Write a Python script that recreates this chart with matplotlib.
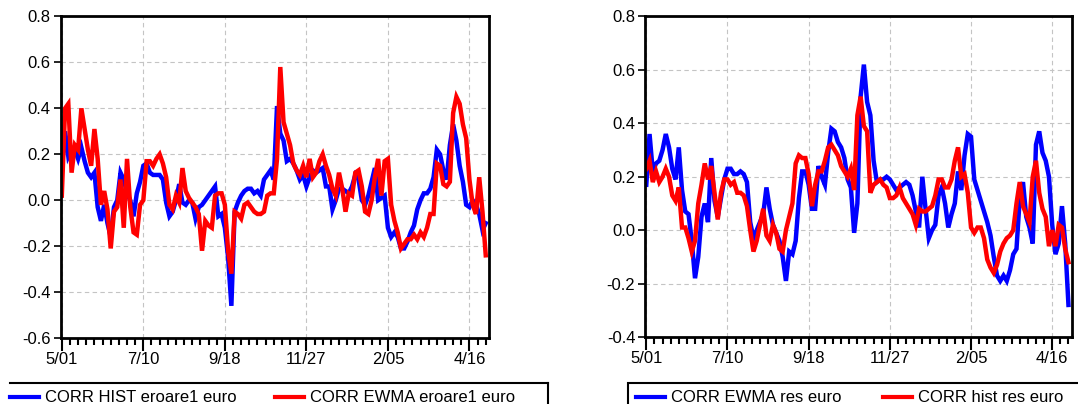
import numpy as np
import matplotlib
matplotlib.use("Agg")
import matplotlib.pyplot as plt
from matplotlib.lines import Line2D
from matplotlib.patches import Rectangle
from matplotlib.ticker import FormatStrFormatter

plt.rcParams['font.family'] = ['Liberation Sans', 'DejaVu Sans']
plt.rcParams['axes.unicode_minus'] = False

# date labels on the time axis, 50 working days apart
date_labels = ["5/01", "7/10", "9/18", "11/27", "2/05", "4/16"]
date_obs = [0, 50, 100, 150, 200, 250]

# correlations, one value every 2 working days
corr_hist_eroare1 = [
    0.14, 0.30, 0.19, 0.22, 0.22, 0.18, 0.23, 0.17, 0.12, 0.10,
    0.12, -0.03, -0.09, -0.02, -0.10, -0.16, -0.03, 0.00, 0.12, 0.09,
    0.03, 0.00, -0.07, 0.03, 0.08, 0.15, 0.16, 0.12, 0.11, 0.11,
    0.11, 0.09, -0.01, -0.07, -0.05, 0.00, 0.07, -0.01, -0.02, 0.00,
    -0.01, -0.08, -0.03, -0.02, 0.00, 0.02, 0.04, 0.06, -0.07, -0.06,
    -0.12, -0.25, -0.46, -0.05, -0.01, 0.02, 0.04, 0.05, 0.05, 0.03,
    0.04, 0.02, 0.09, 0.11, 0.13, 0.09, 0.41, 0.29, 0.26, 0.17,
    0.18, 0.16, 0.13, 0.09, 0.11, 0.06, 0.10, 0.13, 0.12, 0.13,
    0.14, 0.06, 0.06, -0.04, 0.00, 0.05, 0.05, 0.04, 0.03, 0.06,
    0.11, 0.09, 0.00, -0.02, 0.02, 0.08, 0.14, 0.00, 0.01, 0.02,
    -0.12, -0.16, -0.14, -0.16, -0.21, -0.21, -0.18, -0.14, -0.11, -0.04,
    0.00, 0.03, 0.03, 0.05, 0.10, 0.22, 0.20, 0.13, 0.09, 0.24,
    0.33, 0.26, 0.15, 0.08, -0.02, -0.03, 0.00, -0.02, -0.06, -0.13,
    -0.10,
]
corr_ewma_eroare1 = [
    0.02, 0.40, 0.42, 0.12, 0.24, 0.22, 0.40, 0.31, 0.22, 0.15,
    0.31, 0.18, -0.02, 0.04, -0.04, -0.21, -0.05, -0.03, 0.09, -0.12,
    0.18, -0.03, -0.14, -0.15, -0.02, 0.00, 0.17, 0.17, 0.15, 0.18,
    0.20, 0.16, 0.10, -0.02, -0.04, 0.02, -0.01, 0.14, 0.04, 0.01,
    -0.01, -0.03, -0.06, -0.22, -0.09, -0.11, -0.12, 0.02, 0.03, 0.03,
    -0.02, -0.22, -0.32, -0.05, -0.06, -0.08, -0.02, -0.01, -0.03, -0.05,
    -0.06, -0.06, -0.05, 0.02, 0.03, 0.03, 0.18, 0.58, 0.34, 0.29,
    0.24, 0.16, 0.13, 0.11, 0.15, 0.10, 0.18, 0.10, 0.12, 0.17,
    0.20, 0.15, 0.11, 0.05, 0.02, 0.12, 0.05, -0.05, 0.03, 0.02,
    0.12, 0.13, 0.06, -0.05, -0.06, 0.00, 0.10, 0.18, 0.02, 0.17,
    0.18, -0.02, -0.09, -0.14, -0.21, -0.19, -0.17, -0.17, -0.15, -0.17,
    -0.14, -0.16, -0.12, -0.06, -0.06, 0.16, 0.15, 0.07, 0.06, 0.08,
    0.38, 0.45, 0.42, 0.33, 0.27, 0.09, -0.02, -0.06, 0.10, -0.05,
    -0.24,
]
corr_ewma_res = [
    0.17, 0.36, 0.22, 0.25, 0.26, 0.30, 0.36, 0.31, 0.23, 0.19,
    0.31, 0.15, 0.07, 0.06, -0.04, -0.18, -0.10, 0.05, 0.10, 0.03,
    0.27, 0.11, 0.05, 0.12, 0.19, 0.23, 0.23, 0.21, 0.21, 0.22,
    0.21, 0.18, 0.03, -0.03, 0.00, 0.03, 0.06, 0.16, 0.08, 0.02,
    -0.01, -0.04, -0.10, -0.19, -0.08, -0.09, -0.04, 0.12, 0.22, 0.22,
    0.17, 0.08, 0.08, 0.24, 0.20, 0.17, 0.29, 0.38, 0.37, 0.33,
    0.31, 0.27, 0.19, 0.16, -0.01, 0.10, 0.50, 0.62, 0.48, 0.43,
    0.26, 0.18, 0.19, 0.19, 0.20, 0.19, 0.17, 0.15, 0.16, 0.17,
    0.18, 0.17, 0.13, 0.07, 0.01, 0.20, 0.08, -0.03, 0.00, 0.02,
    0.13, 0.16, 0.10, 0.01, 0.06, 0.10, 0.22, 0.15, 0.28, 0.36,
    0.35, 0.19, 0.15, 0.11, 0.07, 0.03, -0.02, -0.10, -0.17, -0.19,
    -0.17, -0.19, -0.15, -0.09, -0.07, 0.12, 0.18, 0.05, 0.01, -0.05,
    0.32, 0.37, 0.29, 0.26, 0.20, 0.02, -0.09, -0.05, 0.09, -0.05,
    -0.28,
]
corr_hist_res = [
    0.23, 0.26, 0.18, 0.22, 0.18, 0.20, 0.23, 0.20, 0.13, 0.11,
    0.16, 0.01, 0.01, -0.03, -0.08, -0.04, 0.10, 0.17, 0.25, 0.19,
    0.24, 0.14, 0.04, 0.14, 0.19, 0.19, 0.17, 0.18, 0.14, 0.14,
    0.13, 0.09, 0.00, -0.08, -0.04, 0.02, 0.08, -0.02, -0.04, 0.02,
    -0.01, -0.07, -0.08, 0.00, 0.05, 0.10, 0.25, 0.28, 0.27, 0.27,
    0.21, 0.09, 0.17, 0.22, 0.22, 0.26, 0.31, 0.32, 0.30, 0.28,
    0.24, 0.22, 0.20, 0.23, 0.15, 0.43, 0.50, 0.39, 0.37, 0.14,
    0.17, 0.18, 0.19, 0.17, 0.16, 0.12, 0.12, 0.13, 0.16, 0.12,
    0.10, 0.08, 0.06, 0.02, 0.08, 0.07, 0.07, 0.08, 0.09, 0.13,
    0.19, 0.19, 0.16, 0.16, 0.19, 0.26, 0.31, 0.20, 0.21, 0.14,
    0.01, -0.01, 0.01, 0.01, -0.03, -0.11, -0.14, -0.16, -0.13, -0.08,
    -0.05, -0.03, -0.02, 0.00, 0.10, 0.18, 0.09, 0.06, 0.03, 0.20,
    0.26, 0.14, 0.08, 0.05, -0.06, 0.00, -0.06, 0.02, 0.01, -0.07,
    -0.12,
]

obs = np.arange(len(corr_hist_eroare1)) * 2

W, H = 1078, 404
fig = plt.figure(figsize=(W / 100, H / 100), dpi=100)

ax1 = fig.add_axes([60.5 / W, 1 - 338 / H, 428.5 / W, 321.5 / H])
ax2 = fig.add_axes([645 / W, 1 - 337 / H, 426.7 / W, 320.5 / H])


def style_axis(ax, ylo, yhi):
    ax.set_xlim(-0.8, 262)
    ax.set_ylim(ylo, yhi)
    ax.set_yticks(np.arange(ylo, yhi + 0.01, 0.2))
    ax.yaxis.set_major_formatter(FormatStrFormatter('%.1f'))
    ax.set_xticks(date_obs)
    ax.set_xticklabels(date_labels)
    ax.set_xticks(np.arange(0, 262, 5), minor=True)
    ax.set_axisbelow(True)
    ax.grid(True, which='major', color='#c4c4c4', linestyle=(0, (4, 3)), linewidth=0.8)
    ax.tick_params(axis='x', which='major', length=9, width=1.5, labelsize=12, pad=1)
    ax.tick_params(axis='x', which='minor', length=5, width=1.5)
    ax.tick_params(axis='y', which='major', length=5, width=1.2, labelsize=12, pad=2)
    for s in ax.spines.values():
        s.set_linewidth(2)


ax1.plot(obs, corr_hist_eroare1, color='#0000ff', lw=3.2, solid_joinstyle='miter')
ax1.plot(obs, corr_ewma_eroare1, color='#ff0000', lw=3.2, solid_joinstyle='miter')
style_axis(ax1, -0.6, 0.8)

ax2.plot(obs, corr_ewma_res, color='#0000ff', lw=3.2, solid_joinstyle='miter')
ax2.plot(obs, corr_hist_res, color='#ff0000', lw=3.2, solid_joinstyle='miter')
style_axis(ax2, -0.4, 0.8)


# legend boxes under each panel (cut by the bottom edge)
def fx(x):
    return x / W


def fy(y):
    return 1 - y / H


fig.add_artist(Line2D([fx(10), fx(548)], [fy(383), fy(383)], color='black', lw=1.5))
fig.add_artist(Line2D([fx(548), fx(548)], [fy(383), fy(410)], color='black', lw=1.5))
fig.add_artist(Rectangle((fx(628), fy(420)), fx(500), 37 / H, fill=False,
                         edgecolor='black', lw=1.5, transform=fig.transFigure))


def legend_entry(x0, color, label):
    fig.add_artist(Line2D([fx(x0), fx(x0 + 29)], [fy(397), fy(397)], color=color, lw=3))
    fig.text(fx(x0 + 35), fy(401.5), label, fontsize=12, va='baseline', ha='left')


legend_entry(10, '#0000ff', "CORR HIST eroare1 euro")
legend_entry(275, '#ff0000', "CORR EWMA eroare1 euro")
legend_entry(636, '#0000ff', "CORR EWMA res euro")
legend_entry(883, '#ff0000', "CORR hist res euro")

fig.savefig("out.png", dpi=100)
